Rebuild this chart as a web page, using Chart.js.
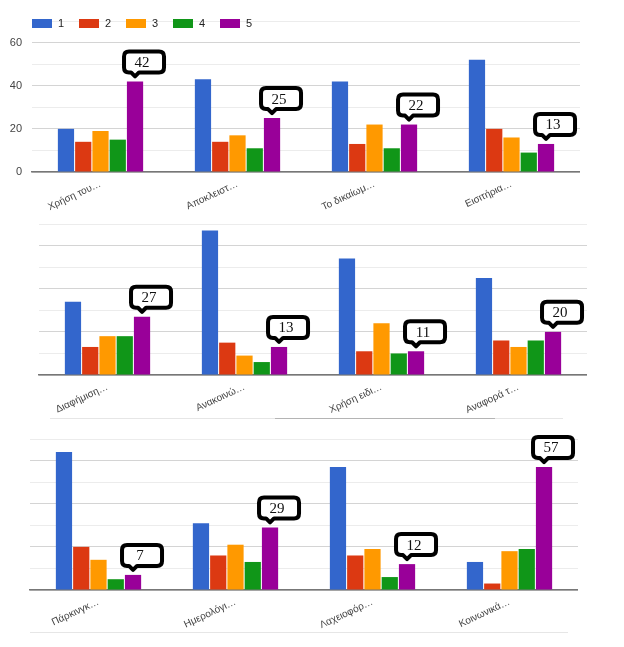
<!DOCTYPE html>
<html>
<head>
<meta charset="utf-8">
<script src="https://cdn.jsdelivr.net/npm/chart.js@4.4.0/dist/chart.umd.min.js"></script>
<style>
    body { margin: 0; background: #fff; }
    #page { position: relative; width: 624px; height: 647px; overflow: hidden; font-family: 'Liberation Sans', Arial, sans-serif; }
    canvas { position: absolute; left: 0; }
    #legend { position: absolute; left: 32px; top: 17px; font-size: 11px; color: #222; white-space: nowrap; }
    .lg-item { display: inline-block; width: 47px; }
    .lg-box { display: inline-block; width: 20px; height: 9px; vertical-align: -1px; margin-right: 6px; }
    .rule { position: absolute; height: 1px; }
</style>
</head>
<body>
<div id="page">
    <canvas id="chartTop" width="580" height="217" style="top:0px"></canvas>
    <canvas id="chartMid" width="587" height="217" style="top:203px"></canvas>
    <canvas id="chartLow" width="578" height="217" style="top:418px"></canvas>
    <div class="rule" style="left:50px; top:418px; width:513px; background:#e6e6e6"></div>
    <div class="rule" style="left:275px; top:418px; width:220px; background:#b4b4b4"></div>
    <div class="rule" style="left:30px; top:632px; width:538px; background:#e6e6e6"></div>
    <div id="legend"></div>
</div>
<script>
// Series (answer 1..5) and colours
const seriesNames = ['1', '2', '3', '4', '5'];
const seriesColors = ['#3366cc', '#dc3912', '#ff9900', '#109618', '#990099'];
const yTickValues = [0, 20, 40, 60];

// Top panel
const topLabels = ['Χρήση του…', 'Αποκλειστ…', 'Το δικαίωμ…', 'Εισιτήρια…'];
const top1 = [20, 43, 42, 52];
const top2 = [14, 14, 13, 20];
const top3 = [19, 17, 22, 16];
const top4 = [15, 11, 11, 9];
const top5 = [42, 25, 22, 13];

// Middle panel
const midLabels = ['Διαφήμιση…', 'Ανακοινώ…', 'Χρήση ειδι…', 'Αναφορά τ…'];
const mid1 = [34, 67, 54, 45];
const mid2 = [13, 15, 11, 16];
const mid3 = [18, 9, 24, 13];
const mid4 = [18, 6, 10, 16];
const mid5 = [27, 13, 11, 20];

// Bottom panel
const lowLabels = ['Πάρκινγκ…', 'Ημερολόγι…', 'Λαχειοφόρ…', 'Κοινωνικά…'];
const low1 = [64, 31, 57, 13];
const low2 = [20, 16, 16, 3];
const low3 = [14, 21, 19, 18];
const low4 = [5, 13, 6, 19];
const low5 = [7, 29, 12, 57];

const FONT = "'Liberation Sans', Arial, sans-serif";

// Speech-bubble labels over the purple (5) bars
const calloutPlugin = {
    id: 'callouts',
    afterDatasetsDraw(chart) {
        const ctx = chart.ctx;
        const meta = chart.getDatasetMeta(4);
        const values = chart.data.datasets[4].data;
        ctx.save();
        meta.data.forEach((bar, i) => {
            const w = 40, h = 21, r = 5;
            const nx = bar.x;
            const left = nx - 11;
            const bottom = bar.y - 9;
            const top = bottom - h;
            ctx.beginPath();
            ctx.moveTo(left + r, top);
            ctx.lineTo(left + w - r, top);
            ctx.quadraticCurveTo(left + w, top, left + w, top + r);
            ctx.lineTo(left + w, bottom - r);
            ctx.quadraticCurveTo(left + w, bottom, left + w - r, bottom);
            ctx.lineTo(nx + 4, bottom);
            ctx.lineTo(nx, bottom + 4);
            ctx.lineTo(nx - 4, bottom);
            ctx.lineTo(left + r, bottom);
            ctx.quadraticCurveTo(left, bottom, left, bottom - r);
            ctx.lineTo(left, top + r);
            ctx.quadraticCurveTo(left, top, left + r, top);
            ctx.closePath();
            ctx.fillStyle = '#fff';
            ctx.fill();
            ctx.lineWidth = 4;
            ctx.lineJoin = 'round';
            ctx.strokeStyle = '#000';
            ctx.stroke();

            ctx.fillStyle = '#111';
            ctx.font = "15px 'Liberation Serif', 'Times New Roman', serif";
            ctx.textAlign = 'center';
            ctx.textBaseline = 'middle';
            ctx.fillText(String(values[i]), left + w / 2 - 2, top + h / 2 + 1);
        });
        ctx.restore();
    }
};

function buildChart(id, labels, series, yWidth, showTicks) {
    const ctx = document.getElementById(id);
    return new Chart(ctx, {
        type: 'bar',
        data: {
            labels: labels,
            datasets: series.map((vals, k) => ({
                label: seriesNames[k],
                data: vals,
                backgroundColor: seriesColors[k],
                borderWidth: 0,
                categoryPercentage: 0.63,
                barPercentage: 0.94
            }))
        },
        options: {
            responsive: false,
            animation: false,
            layout: {
                padding: { top: 21, left: 0, right: 0, bottom: 0 }
            },
            plugins: {
                legend: { display: false },
                tooltip: { enabled: false }
            },
            scales: {
                x: {
                    grid: { display: false, drawTicks: false },
                    border: { display: true, color: '#777', width: 1.5 },
                    ticks: {
                        color: '#444',
                        font: { size: 10, family: FONT },
                        minRotation: 25,
                        maxRotation: 25,
                        autoSkip: false,
                        padding: 6
                    },
                    afterFit(scale) { scale.height = 45; }
                },
                y: {
                    min: 0,
                    max: 70,
                    grid: {
                        drawTicks: false,
                        color: (c) => (c.tick.value % 20 === 0 ? '#d4d4d4' : '#ececec')
                    },
                    border: { display: false },
                    ticks: {
                        display: showTicks,
                        stepSize: 10,
                        padding: 10,
                        color: '#444',
                        font: { size: 11, family: FONT },
                        callback: (v) => (yTickValues.includes(v) ? String(v) : '')
                    },
                    afterFit(scale) { scale.width = yWidth; }
                }
            }
        },
        plugins: [calloutPlugin]
    });
}

// HTML legend for the top panel
const legend = document.getElementById('legend');
seriesNames.forEach((name, k) => {
    const item = document.createElement('span');
    item.className = 'lg-item';
    item.innerHTML = '<span class="lg-box" style="background:' + seriesColors[k] + '"></span>' + name;
    legend.appendChild(item);
});

buildChart('chartTop', topLabels, [top1, top2, top3, top4, top5], 32, true);
buildChart('chartMid', midLabels, [mid1, mid2, mid3, mid4, mid5], 39, false);
buildChart('chartLow', lowLabels, [low1, low2, low3, low4, low5], 30, false);
</script>
</body>
</html>
